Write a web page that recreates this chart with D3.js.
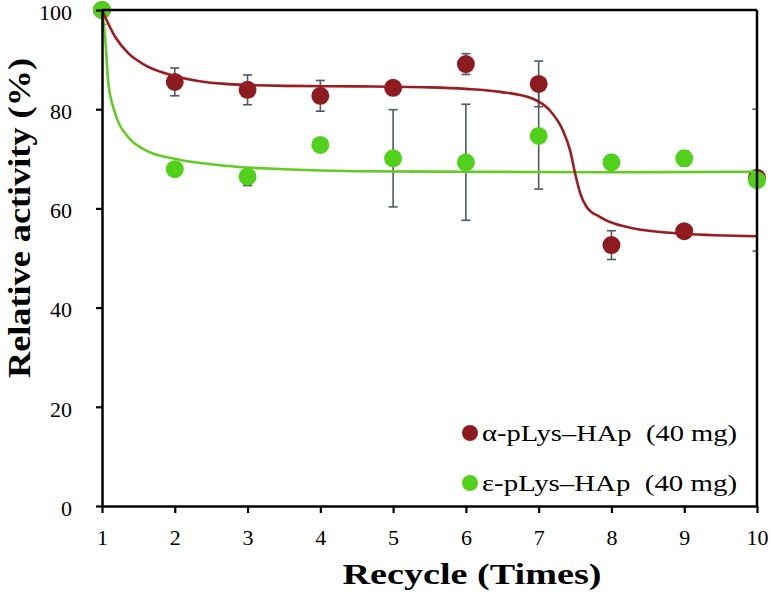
<!DOCTYPE html>
<html><head><meta charset="utf-8">
<script src="https://cdn.jsdelivr.net/npm/d3@7"></script>
<style>html,body{margin:0;padding:0;background:#fff;}svg{display:block;} text{font-family:"Liberation Serif","Times New Roman",Times,serif;}</style>
</head><body>
<script>
// ---- data ----
const cycles = [1,2,3,4,5,6,7,8,9,10];
const alphaValues = [100, 85.5, 83.9, 82.7, 84.3, 89.1, 85.1, 52.6, 55.4, 66.2];
const alphaErrors = [2.9, 2.8, 3.0, 3.1, 0, 2.1, 4.6, 2.9, 0, 0];
const epsValues = [100, 67.9, 66.4, 72.8, 70.1, 69.3, 74.6, 69.3, 70.1, 65.7];
const epsErrors = [0, 0, 1.8, 0, 9.8, 11.7, 10.7, 0, 1.5, 14.3];
// fitted trend curves
const alphaFitX = [1,1.18,1.36,1.59,2,2.69,3.5,4.5,5.5,6.0,6.47,6.92,7.15,7.33,7.43,7.5,7.57,7.66,7.84,8.29,9,10];
const alphaFitY = [100,94.6,91.3,88.9,86.7,85.1,84.7,84.6,84.4,84.1,83.5,82.1,79.8,75.8,71.8,67.1,63.1,60.3,58.3,56.0,54.9,54.4];
const epsFitX = [1,1.04,1.087,1.18,1.36,1.59,2,2.69,3.5,4.5,6,8,10];
const epsFitY = [100,95,85.3,79.2,74.4,71.8,70.0,68.6,67.9,67.5,67.4,67.3,67.4];
const xTicks = [1,2,3,4,5,6,7,8,9,10];
const yTicks = [0,20,40,60,80,100];
const seriesNames = ["α-pLys–HAp  (40 mg)", "ε-pLys–HAp  (40 mg)"];
const xTitle = "Recycle (Times)";
const yTitle = "Relative activity (%)";

// ---- styles ----
const W = 771, H = 597;
const redFill = "#8c1c20", redLine = "#9b1c22";
const greenFill = "#52d11c", greenLine = "#62cc22";
const errColor = "#4d5a63";
const serif = "\"Liberation Serif\",\"Times New Roman\",Times,serif";

const svg = d3.select("body").append("svg").attr("width", W).attr("height", H);
svg.append("rect").attr("width", W).attr("height", H).attr("fill", "#fff");

const x = d3.scaleLinear().domain([1,10]).range([102,757]);
const y = d3.scaleLinear().domain([0,100]).range([506,10]);

svg.append("defs").append("clipPath").attr("id","clip")
  .append("rect").attr("x", x(1)).attr("y", y(100)).attr("width", x(10)-x(1)).attr("height", y(0)-y(100));

const plot = svg.append("g");

// error bars
function errBars(vals, errs) {
  const g = plot.append("g").attr("clip-path","url(#clip)");
  cycles.forEach((c,i) => {
    const e = errs[i]; if (!e) return;
    const cx = x(c), y1 = y(vals[i]+e), y2 = y(vals[i]-e);
    g.append("line").attr("x1",cx).attr("x2",cx).attr("y1",y1).attr("y2",y2).attr("stroke",errColor).attr("stroke-width",1.6);
    [y1,y2].forEach(yy => g.append("line").attr("x1",cx-4.5).attr("x2",cx+4.5).attr("y1",yy).attr("y2",yy).attr("stroke",errColor).attr("stroke-width",1.6));
  });
}
errBars(alphaValues, alphaErrors);
errBars(epsValues, epsErrors);

// points
plot.append("g").selectAll("circle").data(cycles).join("circle")
  .attr("cx", d => x(d)).attr("cy", (d,i) => y(alphaValues[i])).attr("r", 9).attr("fill", redFill);
plot.append("g").selectAll("circle").data(cycles).join("circle")
  .attr("cx", d => x(d)).attr("cy", (d,i) => y(epsValues[i])).attr("r", 9).attr("fill", greenFill);

// fitted curves
const line = d3.line().x(d => x(d[0])).y(d => y(d[1])).curve(d3.curveMonotoneX);
plot.append("path").datum(epsFitX.map((v,i)=>[v,epsFitY[i]])).attr("d", line)
  .attr("fill","none").attr("stroke",greenLine).attr("stroke-width",2.6);
plot.append("path").datum(alphaFitX.map((v,i)=>[v,alphaFitY[i]])).attr("d", line)
  .attr("fill","none").attr("stroke",redLine).attr("stroke-width",2.6);

// frame (top and right)
svg.append("line").attr("x1",x(1)).attr("x2",x(10)).attr("y1",y(100)).attr("y2",y(100)).attr("stroke","#000").attr("stroke-width",2.5);
svg.append("line").attr("x1",x(10)).attr("x2",x(10)).attr("y1",y(100)).attr("y2",y(0)).attr("stroke","#000").attr("stroke-width",2.5);

// axes
const xAxis = svg.append("g").attr("transform",`translate(0,${y(0)})`)
  .call(d3.axisBottom(x).tickValues(xTicks).tickFormat(d3.format("d")).tickSizeOuter(0).tickSizeInner(7).tickPadding(16));
const yAxis = svg.append("g").attr("transform",`translate(${x(1)},0)`)
  .call(d3.axisLeft(y).tickValues(yTicks).tickSizeOuter(0).tickSizeInner(6).tickPadding(24));
[xAxis, yAxis].forEach(a => {
  a.attr("font-family", serif);
  a.select(".domain").attr("stroke","#000").attr("stroke-width",2.5);
  a.selectAll(".tick line").attr("stroke","#000").attr("stroke-width",2.2);
  a.selectAll(".tick text").attr("font-family",serif).style("font-family",serif).attr("font-size",22).attr("fill","#000");
});
yAxis.selectAll(".tick text").attr("text-anchor","end").attr("x", -30).attr("dy", "0.42em");

// axis titles
svg.append("text").attr("x", 472).attr("y", 584).attr("text-anchor","middle")
  .style("font-family",serif).attr("font-weight","bold").attr("font-size",30)
  .attr("textLength",259).attr("lengthAdjust","spacingAndGlyphs").text(xTitle);
svg.append("text").attr("transform","translate(30,218) rotate(-90)").attr("text-anchor","middle")
  .style("font-family",serif).attr("font-weight","bold").attr("font-size",31)
  .attr("textLength",320).attr("lengthAdjust","spacingAndGlyphs").text(yTitle);

// legend
const legend = svg.append("g");
const legColors = [redFill, greenFill];
const legY = [433, 483];
seriesNames.forEach((n,i) => {
  legend.append("circle").attr("cx",470).attr("cy",legY[i]).attr("r",8).attr("fill",legColors[i]);
  legend.append("text").attr("x",482).attr("y",legY[i]+8).style("font-family",serif).attr("font-size",23)
    .attr("textLength",255).attr("lengthAdjust","spacingAndGlyphs").style("white-space","pre").text(n);
});
</script>
</body></html>
